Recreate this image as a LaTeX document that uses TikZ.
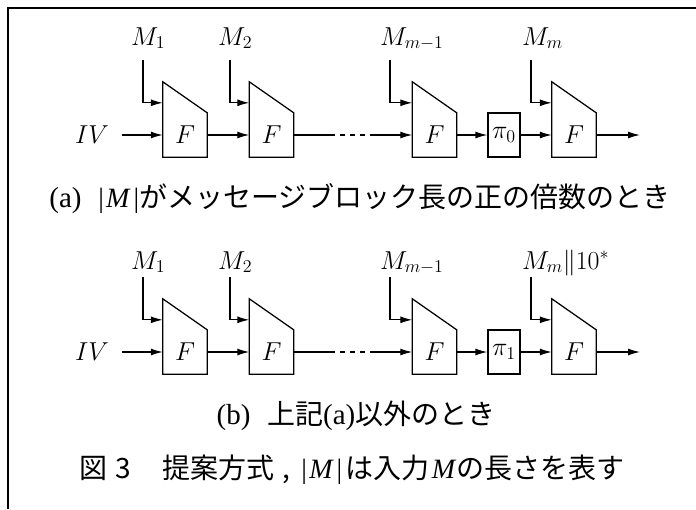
\documentclass[tikz,border=0pt]{standalone}
\usepackage{graphicx}
\usepackage{fontspec}
\newfontfamily\cjk{Noto Sans CJK JP}
\newfontfamily\lserif{Liberation Serif}
\usetikzlibrary{arrows.meta}
\newcommand{\mlbl}[1]{\scalebox{1.25}{\fontsize{20.74}{25}\selectfont$#1$}}
\newcommand{\latn}[1]{{\fontsize{29}{32}\selectfont\lserif #1}}
\newcommand{\absM}{{\fontsize{28}{32}\selectfont\lserif |\kern0.08em\textit{M}\kern0.1em|}}
\begin{document}
\begin{tikzpicture}[x=1pt,y=-1pt,
  lw/.style={line width=1.25pt},
  arr/.style={lw,-{Latex[length=12pt,width=7pt]}},
  fnode/.style={minimum width=44pt,minimum height=44pt,inner sep=0pt},
  pinode/.style={draw,lw,minimum width=32pt,minimum height=44pt,inner sep=0pt},
  mlab/.style={anchor=base west,inner sep=0pt},
  ivlab/.style={inner sep=0pt},
  captext/.style={inner sep=0pt,font=\fontsize{28}{32}\selectfont\cjk},
  dashseg/.style={lw,dash pattern=on 5pt off 5pt}
]
\useasboundingbox (0,0) rectangle (696,509);
\draw[line width=1.5pt] (8,509) -- (8,8) -- (696,8);

% ---------- diagram (a) ----------
\node[ivlab] (aiv) at (92,135) {\mlbl{IV}};
\coordinate (aivs) at (122,135);
\foreach \n/\x in {1/185,2/271.5,3/434.5,4/574}{
  \node[fnode] (af\n) at (\x,135) {\mlbl{F}};
  \draw[lw] (af\n.south west) -- (af\n.north west) -- ++(0,-31) -- (af\n.north east) -- (af\n.south east) -- cycle;
}
\node[pinode] (api) at (504,135) {\mlbl{\pi_0}};
\node[mlab] (am1) at (131,45) {\mlbl{M_1}};
\node[mlab] (am2) at (218,45) {\mlbl{M_2}};
\node[mlab] (am3) at (380,45) {\mlbl{M_{m-1}}};
\node[mlab] (am4) at (522,45) {\mlbl{M_m}};
\coordinate (am1t) at (143,60);
\coordinate (am2t) at (230,60);
\coordinate (am3t) at (390,60);
\coordinate (am4t) at (531,60);
\foreach \n in {1,2,3,4}{
  \draw[arr] (am\n t) |- ([yshift=10pt]af\n.north west);
}
\coordinate (ad1) at (330,135);
\coordinate (ad2) at (370,135);
\coordinate (aout) at (640,135);
\draw[arr] (aivs) -- (af1.west);
\draw[arr] (af1.east) -- (af2.west);
\draw[lw] (af2.east) -- (ad1);
\draw[dashseg] (ad1) -- (ad2);
\draw[arr] (ad2) -- (af3.west);
\draw[arr] (af3.east) -- (api.west);
\draw[arr] (api.east) -- (af4.west);
\draw[arr] (af4.east) -- (aout);
\node[captext] (acap) at (360,199) {\latn{(a)}\hspace{0.6em}\absM がメッセージブロック長の正の倍数のとき};

% ---------- diagram (b) ----------
\begin{scope}[yshift=-217pt]
\node[ivlab] (biv) at (92,135) {\mlbl{IV}};
\coordinate (bivs) at (122,135);
\foreach \n/\x in {1/185,2/271.5,3/434.5,4/574}{
  \node[fnode] (bf\n) at (\x,135) {\mlbl{F}};
  \draw[lw] (bf\n.south west) -- (bf\n.north west) -- ++(0,-31) -- (bf\n.north east) -- (bf\n.south east) -- cycle;
}
\node[pinode] (bpi) at (504,135) {\mlbl{\pi_1}};
\node[mlab] (bm1) at (131,52) {\mlbl{M_1}};
\node[mlab] (bm2) at (218,52) {\mlbl{M_2}};
\node[mlab] (bm3) at (380,52) {\mlbl{M_{m-1}}};
\node[mlab] (bm4) at (522,52) {\mlbl{M_m\|10^*}};
\coordinate (bm1t) at (143,60);
\coordinate (bm2t) at (230,60);
\coordinate (bm3t) at (390,60);
\coordinate (bm4t) at (531,60);
\foreach \n in {1,2,3,4}{
  \draw[arr] (bm\n t) |- ([yshift=10pt]bf\n.north west);
}
\coordinate (bd1) at (330,135);
\coordinate (bd2) at (370,135);
\coordinate (bout) at (640,135);
\draw[arr] (bivs) -- (bf1.west);
\draw[arr] (bf1.east) -- (bf2.west);
\draw[lw] (bf2.east) -- (bd1);
\draw[dashseg] (bd1) -- (bd2);
\draw[arr] (bd2) -- (bf3.west);
\draw[arr] (bf3.east) -- (bpi.west);
\draw[arr] (bpi.east) -- (bf4.west);
\draw[arr] (bf4.east) -- (bout);
\end{scope}
\node[captext] (bcap) at (356,416) {\latn{(b)}\hspace{0.6em}上記\latn{(a)}以外のとき};
\node[captext] (fcap) at (352,470) {図\hspace{0.3em}3\hspace{1.1em}提案方式\hspace{0.3em},\hspace{0.4em}\absM\hspace{0.1em}は入力\hspace{0.1em}{\fontsize{28}{32}\selectfont\lserif\itshape M}\hspace{0.05em}の長さを表す};
\end{tikzpicture}
\end{document}
